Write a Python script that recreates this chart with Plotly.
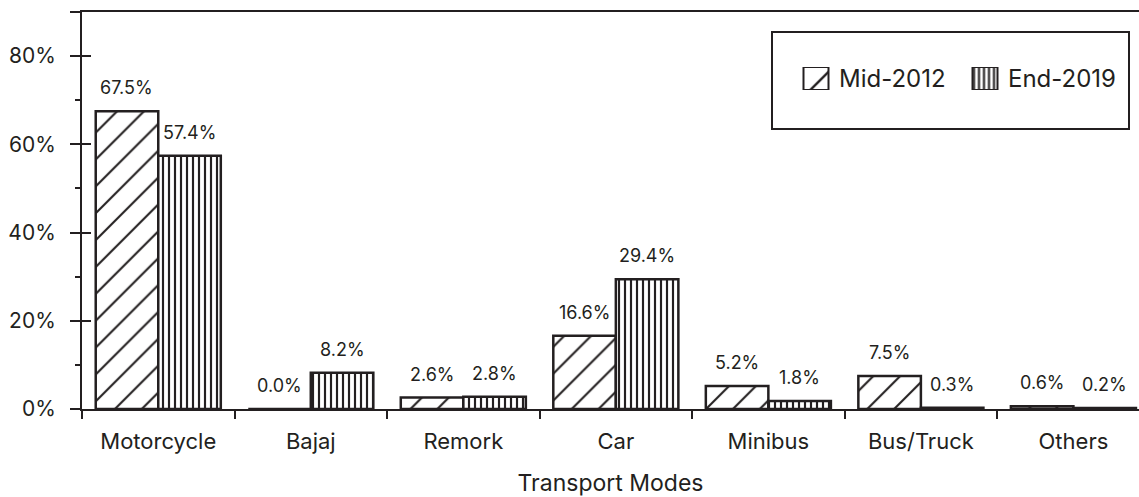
import plotly.graph_objects as go

categories = ["Motorcycle", "Bajaj", "Remork", "Car", "Minibus", "Bus/Truck", "Others"]
mid_2012 = [67.5, 0.0, 2.6, 16.6, 5.2, 7.5, 0.6]
end_2019 = [57.4, 8.2, 2.8, 29.4, 1.8, 0.3, 0.2]
series_names = ["Mid-2012", "End-2019"]
y_tickvals = [0, 20, 40, 60, 80, 90]
y_ticktext = ["0%", "20%", "40%", "60%", "80%", ""]

INK = "#231f20"
FONT = "Inter, Lato, sans-serif"

W, H = 1139, 497
ML, MR, MT, MB = 82, 0, 12, 88
plot_w = W - ML - MR
plot_h = H - MT - MB

def px_x(p):
    return (p - ML) / plot_w
def px_y(p):
    return (H - MB - p) / plot_h

patterns = [
    dict(shape="/", fgcolor=INK, fgopacity=1, fillmode="overlay", size=19, solidity=0.11),
    dict(shape="|", fgcolor=INK, fgopacity=1, fillmode="overlay", size=6, solidity=0.36),
]

fig = go.Figure()
for name, vals, pat in zip(series_names, (mid_2012, end_2019), patterns):
    fig.add_trace(go.Bar(
        x=categories, y=vals, name=name, showlegend=False,
        marker=dict(color="white", line=dict(color=INK, width=2.5), pattern=pat),
    ))

# value labels
ncat_span = 6.93
px_per_cat = plot_w / ncat_span
bar_w = px_per_cat * (1 - 0.18) / 2
for vals, sign in ((mid_2012, -1), (end_2019, 1)):
    for c, v in zip(categories, vals):
        fig.add_annotation(x=c, y=v, text=f"{v:.1f}%", showarrow=False,
                           xshift=sign * bar_w / 2, yshift=11, yanchor="bottom",
                           font=dict(size=18, color=INK, family=FONT))

# legend box
fig.add_shape(type="rect", xref="paper", yref="paper",
              x0=px_x(772), x1=px_x(1129), y0=px_y(129), y1=px_y(32),
              line=dict(color=INK, width=2), fillcolor="rgba(0,0,0,0)")

# custom legend symbols drawn as bars on a small dedicated axis pair
leg_spacing = 169
leg_c0 = 816
fig.add_trace(go.Bar(
    x=series_names, y=[1, 1], xaxis="x2", yaxis="y3", showlegend=False,
    width=25 / leg_spacing, hoverinfo="skip",
    marker=dict(color="white", line=dict(color=INK, width=2),
                pattern=dict(shape=["/", "|"], fgcolor=INK, fgopacity=1,
                             fillmode="overlay", size=[24, 5], solidity=[0.1, 0.42])),
))
for name in series_names:
    fig.add_annotation(x=name, y=0.5, xref="x2", yref="y3", text=name, showarrow=False,
                       xanchor="left", xshift=21, font=dict(size=24, color=INK, family=FONT))

fig.update_layout(
    width=W, height=H,
    margin=dict(l=ML, r=MR, t=MT, b=MB),
    paper_bgcolor="white", plot_bgcolor="white",
    barmode="group", bargap=0.18, bargroupgap=0,
    font=dict(family=FONT, color=INK, size=20),
    showlegend=False,
    xaxis=dict(
        range=[-0.5, -0.5 + ncat_span], showline=True, linecolor=INK, linewidth=2,
        mirror=True, ticks="outside", tickson="boundaries", ticklen=8, tickwidth=2,
        tickcolor=INK, showgrid=False, ticklabelstandoff=12, automargin=False,
        tickfont=dict(size=22, color=INK),
        title=dict(text="Transport Modes", font=dict(size=23, color=INK), standoff=22),
    ),
    yaxis=dict(
        range=[0, 90], showline=True, linecolor=INK, linewidth=2,
        tickvals=y_tickvals, ticktext=y_ticktext, ticks="outside", ticklen=10,
        tickwidth=2, tickcolor=INK, showgrid=False, zeroline=False, automargin=False,
        ticklabelstandoff=10, tickfont=dict(size=21, color=INK),
        minor=dict(tickvals=[10, 30, 50, 70], ticks="outside", ticklen=5,
                   tickwidth=2, tickcolor=INK),
    ),
    yaxis2=dict(
        range=[0, 90], overlaying="y", side="left", tickvals=[0, 20, 40, 60, 80],
        ticks="inside", ticklen=9, tickwidth=2, tickcolor=INK, showticklabels=False,
        showgrid=False, zeroline=False, showline=False, automargin=False,
    ),
    xaxis2=dict(
        domain=[px_x(leg_c0 - leg_spacing / 2), px_x(leg_c0 + leg_spacing * 1.5)],
        range=[-0.5, 1.5], anchor="y3", visible=False, fixedrange=True,
    ),
    yaxis3=dict(
        domain=[px_y(90), px_y(67)], range=[0, 1], anchor="x2", visible=False,
        fixedrange=True,
    ),
)
fig.add_trace(go.Scatter(x=[categories[0]], y=[0], yaxis="y2", mode="markers",
                         marker=dict(opacity=0), showlegend=False, hoverinfo="skip"))

fig.write_html(
    "out.html",
    config={"displayModeBar": False},
    post_script="document.body.style.margin='0';document.body.style.overflow='hidden';",
)
